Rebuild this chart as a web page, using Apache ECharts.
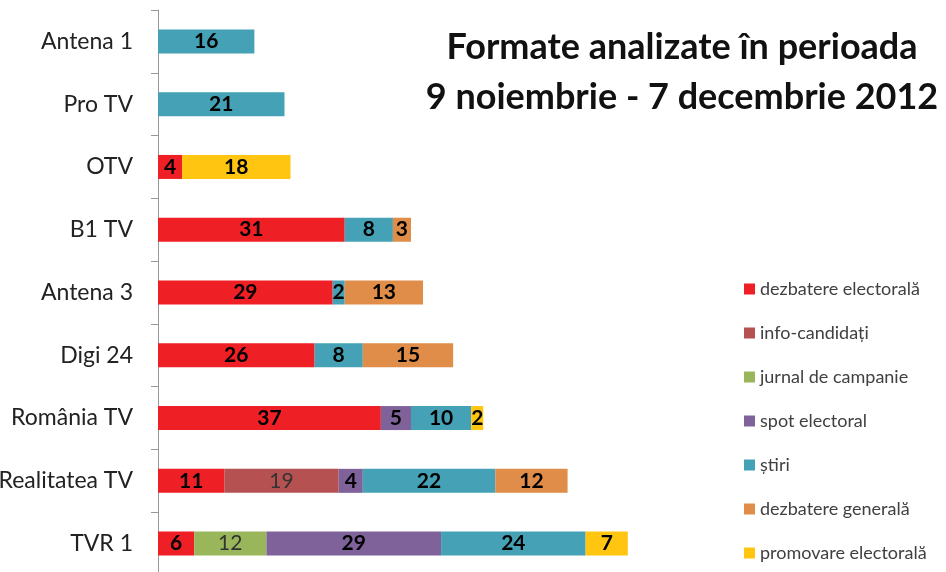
<!DOCTYPE html>
<html>
<head>
<meta charset="utf-8">
<script src="https://cdn.jsdelivr.net/npm/echarts@6/dist/echarts.min.js"></script>
<style>
  html, body { margin: 0; padding: 0; background: #fff; }
  #chart { width: 946px; height: 572px; }
</style>
</head>
<body>
<div id="chart"></div>
<script>
// posturi TV, de sus in jos
var channels = ['Antena 1', 'Pro TV', 'OTV', 'B1 TV', 'Antena 3', 'Digi 24', 'România TV', 'Realitatea TV', 'TVR 1']

// valori pe formate (null = lipsa)
var dezbatereElectorala = [null, null, 4, 31, 29, 26, 37, 11, 6]
var infoCandidati = [null, null, null, null, null, null, null, 19, null]
var jurnalCampanie = [null, null, null, null, null, null, null, null, 12]
var spotElectoral = [null, null, null, null, null, null, 5, 4, 29]
var stiri = [16, 21, null, 8, 2, 8, 10, 22, 24]
var dezbatereGenerala = [null, null, null, 3, 13, 15, null, 12, null]
var promovareElectorala = [null, null, 18, null, null, null, 2, null, 7]

var seriesNames = ['dezbatere electorală', 'info-candidați', 'jurnal de campanie', 'spot electoral', 'știri', 'dezbatere generală', 'promovare electorală']
var seriesData = [dezbatereElectorala, infoCandidati, jurnalCampanie, spotElectoral, stiri, dezbatereGenerala, promovareElectorala]
var colors = ['#EE1F25', '#B55150', '#9AB65A', '#7F6299', '#45A1B5', '#DF8D49', '#FFC511']
var plainLabel = { 'info-candidați': true, 'jurnal de campanie': true }

var FONT = 'Lato'

var dom = document.getElementById('chart')
var myChart = echarts.init(dom)

var series = seriesNames.map(function (name, i) {
    return {
        name: name,
        type: 'bar',
        stack: 'total',
        barWidth: 24,
        data: seriesData[i],
        itemStyle: { color: colors[i] },
        label: {
            show: true,
            position: 'inside',
            fontFamily: FONT,
            fontSize: 21,
            fontWeight: plainLabel[name] ? 'normal' : 'bold',
            color: plainLabel[name] ? '#333' : '#000'
        }
    }
})

var option = {
    animation: false,
    backgroundColor: '#fff',
    title: {
        text: 'Formate analizate în perioada\n9 noiembrie - 7 decembrie 2012',
        left: 677,
        top: 17,
        textAlign: 'center',
        textStyle: {
            fontFamily: FONT,
            fontSize: 36,
            fontWeight: 'bold',
            color: '#111',
            lineHeight: 50
        }
    },
    legend: {
        orient: 'vertical',
        left: 739,
        top: 275,
        itemWidth: 11,
        itemHeight: 11,
        itemGap: 26,
        icon: 'rect',
        textStyle: { fontFamily: FONT, fontSize: 18, color: '#404040' },
        data: seriesNames
    },
    grid: {
        left: 158,
        right: 8,
        top: 10,
        bottom: -3,
        containLabel: false,
        outerBoundsMode: 'none'
    },
    xAxis: {
        type: 'value',
        min: 0,
        max: 129.5,
        show: false
    },
    yAxis: {
        type: 'category',
        inverse: true,
        data: channels,
        axisLine: { lineStyle: { color: '#999', width: 1 } },
        axisTick: { show: true, length: 7, lineStyle: { color: '#999' } },
        axisLabel: {
            fontFamily: FONT,
            fontSize: 23,
            color: '#222',
            margin: 25
        }
    },
    series: series
}

myChart.setOption(option, true)
</script>
</body>
</html>
